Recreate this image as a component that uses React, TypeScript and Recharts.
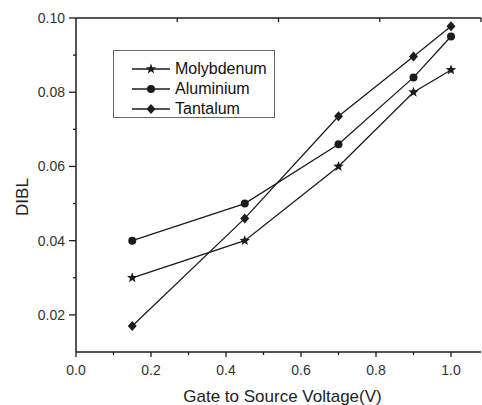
import React from "react";
import { LineChart, Line, XAxis, YAxis } from "recharts";

const voltages = [0.15, 0.45, 0.7, 0.9, 1.0];
const molybdenum = [0.03, 0.04, 0.06, 0.08, 0.086];
const aluminium = [0.04, 0.05, 0.066, 0.084, 0.095];
const tantalum = [0.017, 0.046, 0.0735, 0.0896, 0.0978];

const xTicks = [0, 0.1, 0.2, 0.3, 0.4, 0.5, 0.6, 0.7, 0.8, 0.9, 1.0];
const yTicks = [0.02, 0.03, 0.04, 0.05, 0.06, 0.07, 0.08, 0.09, 0.1];
const topTicks = [1, 2, 3, 4, 5, 6, 7, 8, 9];

const data = voltages.map((x, i) => ({
  x,
  mo: molybdenum[i],
  al: aluminium[i],
  ta: tantalum[i],
}));

const INK = "#1c1c1c";
const FONT = "'Liberation Sans', Arial, sans-serif";

const starPath = (cx: number, cy: number, r: number) => {
  let d = "";
  for (let i = 0; i < 10; i++) {
    const rr = i % 2 === 0 ? r : r * 0.42;
    const a = -Math.PI / 2 + (i * Math.PI) / 5;
    d += (i === 0 ? "M" : "L") + (cx + rr * Math.cos(a)).toFixed(2) + "," + (cy + rr * Math.sin(a)).toFixed(2);
  }
  return d + "Z";
};

const Marker = ({ kind, cx, cy }: { kind: string; cx: number; cy: number }) => {
  if (kind === "star") return <path d={starPath(cx, cy, 5.5)} fill={INK} />;
  if (kind === "circle") return <circle cx={cx} cy={cy} r={4} fill={INK} />;
  return <path d={`M${cx},${cy - 5} L${cx + 4.5},${cy} L${cx},${cy + 5} L${cx - 4.5},${cy} Z`} fill={INK} />;
};

const dotFor = (kind: string) => (props: any) =>
  <Marker key={`${kind}-${props.index}`} kind={kind} cx={props.cx} cy={props.cy} />;

const BottomTick = (props: any) => {
  const { x, y, payload } = props;
  const v = payload.value;
  const major = Math.round(v * 10) % 2 === 0;
  return (
    <g>
      <line x1={x} x2={x} y1={y} y2={y + (major ? 5 : 3)} stroke={INK} strokeWidth={1.3} />
      {major && (
        <text x={x} y={y + 23} textAnchor="middle" fontSize={14} fontFamily={FONT} fill="#333">
          {v.toFixed(1)}
        </text>
      )}
    </g>
  );
};

const LeftTick = (props: any) => {
  const { x, y, payload } = props;
  const v = payload.value;
  const major = Math.round(v * 100) % 2 === 0;
  return (
    <g>
      <line x1={x} x2={x - (major ? 7 : 3)} y1={y} y2={y} stroke={INK} strokeWidth={1.3} />
      {major && (
        <text x={x - 11} y={y + 5} textAnchor="end" fontSize={14} fontFamily={FONT} fill="#333">
          {v.toFixed(2)}
        </text>
      )}
    </g>
  );
};

const TopTick = (props: any) => {
  const { x, y } = props;
  return <line x1={x} x2={x} y1={y} y2={y + 4} stroke={INK} strokeWidth={1.3} />;
};

const legendItems = [
  { name: "Molybdenum", kind: "star" },
  { name: "Aluminium", kind: "circle" },
  { name: "Tantalum", kind: "diamond" },
];

const LegendBox = () => (
  <div
    style={{
      position: "absolute",
      left: 113,
      top: 50,
      width: 162,
      height: 68,
      border: "1px solid #666",
      boxSizing: "border-box",
      background: "#fff",
    }}
  >
    {legendItems.map((it, i) => (
      <div key={it.name} style={{ position: "absolute", left: 0, top: 8 + i * 20, height: 20, width: 160 }}>
        <svg width={40} height={20} style={{ position: "absolute", left: 18, top: 0 }}>
          <line x1={0} x2={38} y1={10} y2={10} stroke={INK} strokeWidth={1.3} />
          <Marker kind={it.kind} cx={19} cy={10} />
        </svg>
        <span
          style={{
            position: "absolute",
            left: 61,
            top: 0,
            lineHeight: "20px",
            fontSize: 16,
            fontFamily: FONT,
            color: "#111",
            whiteSpace: "nowrap",
          }}
        >
          {it.name}
        </span>
      </div>
    ))}
  </div>
);

export default function App() {
  return (
    <div style={{ position: "absolute", left: 0, top: 0, width: 482, height: 405, overflow: "hidden", background: "#fff" }}>
      <LineChart width={482} height={405} data={data} margin={{ top: 0, right: 1, bottom: 0, left: 0 }}>
        <XAxis
          xAxisId="bottom"
          type="number"
          dataKey="x"
          domain={[0, 1.08]}
          allowDataOverflow
          ticks={xTicks}
          tick={BottomTick}
          tickLine={false}
          tickSize={0}
          tickMargin={0}
          interval={0}
          height={53}
          axisLine={{ stroke: INK, strokeWidth: 1.5 }}
          label={{
            value: "Gate to Source Voltage(V)",
            position: "insideBottom",
            offset: 3,
            dx: 4,
            fontSize: 17,
            fontFamily: FONT,
            fill: "#222",
          }}
        />
        <XAxis
          xAxisId="top"
          orientation="top"
          type="number"
          domain={[0, 9.878]}
          allowDataOverflow
          ticks={topTicks}
          tick={TopTick}
          tickLine={false}
          tickSize={0}
          tickMargin={0}
          interval={0}
          height={18}
          axisLine={{ stroke: INK, strokeWidth: 1.5 }}
        />
        <YAxis
          type="number"
          domain={[0.01, 0.1]}
          allowDataOverflow
          ticks={yTicks}
          tick={LeftTick}
          tickLine={false}
          tickSize={0}
          tickMargin={0}
          interval={0}
          width={76}
          axisLine={{ stroke: INK, strokeWidth: 1.5 }}
          label={{
            value: "DIBL",
            angle: -90,
            position: "center",
            dx: -16,
            dy: 12,
            fontSize: 17,
            fontFamily: FONT,
            fill: "#222",
          }}
        />
        <Line xAxisId="bottom" dataKey="mo" stroke={INK} strokeWidth={1.3} dot={dotFor("star")} isAnimationActive={false} />
        <Line xAxisId="bottom" dataKey="al" stroke={INK} strokeWidth={1.3} dot={dotFor("circle")} isAnimationActive={false} />
        <Line xAxisId="bottom" dataKey="ta" stroke={INK} strokeWidth={1.3} dot={dotFor("diamond")} isAnimationActive={false} />
      </LineChart>
      <LegendBox />
    </div>
  );
}
